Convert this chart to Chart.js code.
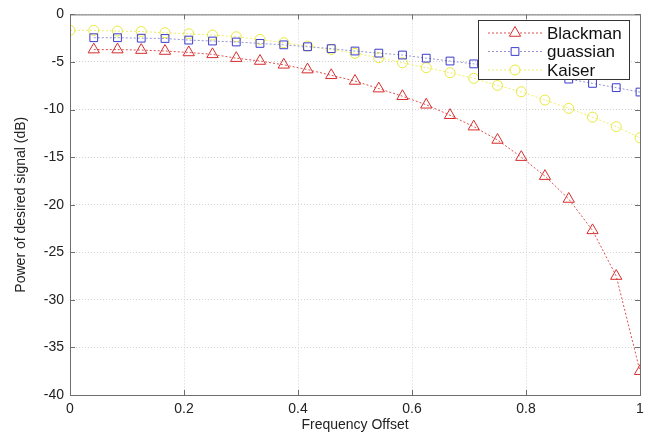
<!DOCTYPE html>
<html>
<head>
<meta charset="utf-8">
<script src="https://cdn.jsdelivr.net/npm/chart.js@4/dist/chart.umd.min.js"></script>
<style>
  html, body { margin: 0; padding: 0; background: #fff; }
  #wrap { width: 650px; height: 438px; position: relative; }
</style>
</head>
<body>
<div id="wrap"><canvas id="chart"></canvas></div>
<script>
// frequency offset values (x)
const freqOffset = [0, 0.0417, 0.0833, 0.125, 0.1667, 0.2083, 0.25, 0.2917, 0.3333, 0.375,
  0.4167, 0.4583, 0.5, 0.5417, 0.5833, 0.625, 0.6667, 0.7083, 0.75, 0.7917,
  0.8333, 0.875, 0.9167, 0.9583, 1];

// power (dB) per window, Blackman and guassian start at the second offset
const blackman = [-3.7, -3.7, -3.75, -3.85, -4.0, -4.2, -4.6, -4.9, -5.3, -5.8,
  -6.4, -7.0, -7.8, -8.6, -9.5, -10.6, -11.8, -13.2, -15.0, -17.0,
  -19.4, -22.7, -27.5, -37.5];
const guassian = [-2.45, -2.45, -2.5, -2.53, -2.7, -2.8, -2.9, -3.05, -3.2, -3.4,
  -3.6, -3.85, -4.07, -4.27, -4.6, -4.9, -5.2, -5.6, -6.0, -6.4,
  -6.8, -7.25, -7.7, -8.16];
const kaiser = [-1.68, -1.68, -1.75, -1.8, -1.93, -2.03, -2.17, -2.35, -2.63, -2.98,
  -3.33, -3.68, -4.1, -4.55, -5.08, -5.6, -6.13, -6.72, -7.46, -8.13,
  -9.0, -9.88, -10.8, -11.8, -12.96];

const xTicks = [0, 0.2, 0.4, 0.6, 0.8, 1];
const yTicks = [0, -5, -10, -15, -20, -25, -30, -35, -40];

const FONT = "'Liberation Sans', Arial, sans-serif";

function toPoints(xs, ys) {
  return ys.map((y, i) => ({ x: xs[i], y: y }));
}

const series = [
  { label: 'Blackman', xs: freqOffset.slice(1), ys: blackman, color: 'rgb(215,45,45)', line: 'rgb(222,80,80)', style: 'triangle', r: 6.5 },
  { label: 'guassian', xs: freqOffset.slice(1), ys: guassian, color: 'rgb(60,60,205)', line: 'rgb(150,150,215)', style: 'rect', r: 5.5 },
  { label: 'Kaiser', xs: freqOffset, ys: kaiser, color: 'rgb(232,232,60)', line: 'rgb(238,238,110)', style: 'circle', r: 5 }
];

// frame, inner ticks and boxed legend like the matlab figure
const framePlugin = {
  id: 'frame',
  afterDraw(chart) {
    const { ctx, chartArea: a, scales } = chart;
    ctx.save();
    ctx.strokeStyle = '#6e6e6e';
    ctx.lineWidth = 1;
    ctx.strokeRect(a.left + 0.5, a.top + 0.5, a.right - a.left, a.bottom - a.top);
    ctx.beginPath();
    xTicks.forEach(v => {
      const px = Math.round(scales.x.getPixelForValue(v)) + 0.5;
      ctx.moveTo(px, a.bottom); ctx.lineTo(px, a.bottom - 5);
      ctx.moveTo(px, a.top); ctx.lineTo(px, a.top + 5);
    });
    yTicks.forEach(v => {
      const py = Math.round(scales.y.getPixelForValue(v)) + 0.5;
      ctx.moveTo(a.left, py); ctx.lineTo(a.left + 5, py);
      ctx.moveTo(a.right, py); ctx.lineTo(a.right - 5, py);
    });
    ctx.stroke();

    // legend box
    const lx = 478, ly = 20, lw = 151, lh = 59;
    ctx.fillStyle = '#fff';
    ctx.fillRect(lx, ly, lw, lh);
    ctx.strokeStyle = '#333';
    ctx.strokeRect(lx + 0.5, ly + 0.5, lw, lh);
    ctx.textBaseline = 'middle';
    series.forEach((s, i) => {
      const cy = ly + 13 + i * 18.5;
      ctx.strokeStyle = s.line;
      ctx.setLineDash([2, 2]);
      ctx.beginPath();
      ctx.moveTo(lx + 10, cy); ctx.lineTo(lx + 64, cy);
      ctx.stroke();
      ctx.setLineDash([]);
      ctx.strokeStyle = s.color;
      ctx.fillStyle = '#fff';
      Chart.helpers.drawPoint(ctx, { pointStyle: s.style, radius: s.r, rotation: 0, borderWidth: 1 }, lx + 37, cy);
      ctx.fillStyle = '#111';
      ctx.font = '17px ' + FONT;
      ctx.fillText(s.label, lx + 69, cy + 1);
    });
    ctx.restore();
  }
};

new Chart(document.getElementById('chart'), {
  type: 'line',
  data: {
    datasets: series.map(s => ({
      label: s.label,
      data: toPoints(s.xs, s.ys),
      borderColor: s.line,
      backgroundColor: 'transparent',
      borderWidth: 1,
      borderDash: [2, 2],
      tension: 0,
      pointStyle: s.style,
      pointRadius: s.r,
      pointBorderColor: s.color,
      pointBackgroundColor: 'transparent',
      pointBorderWidth: 1
    }))
  },
  options: {
    responsive: true,
    maintainAspectRatio: false,
    animation: false,
    layout: { padding: { top: 13, right: 10, left: 0, bottom: 0 } },
    plugins: {
      legend: { display: false },
      tooltip: { enabled: false }
    },
    scales: {
      x: {
        type: 'linear',
        min: 0,
        max: 1,
        afterBuildTicks: scale => { scale.ticks = xTicks.map(v => ({ value: v })); },
        afterFit: scale => { scale.height = 43; },
        ticks: {
          color: '#222',
          font: { family: FONT, size: 14 },
          padding: 6,
          maxRotation: 0,
          callback: v => String(v)
        },
        grid: { color: '#d2d2d2', drawTicks: false },
        border: { display: false, dash: [1, 2] },
        title: {
          display: true,
          text: 'Frequency Offset',
          color: '#222',
          font: { family: FONT, size: 14 },
          padding: { top: 0, bottom: 4 }
        }
      },
      y: {
        type: 'linear',
        min: -40,
        max: 0,
        afterBuildTicks: scale => { scale.ticks = yTicks.map(v => ({ value: v })); },
        afterFit: scale => { scale.width = 70; },
        ticks: {
          color: '#222',
          font: { family: FONT, size: 14 },
          padding: 6,
          callback: v => String(v)
        },
        grid: { color: '#d2d2d2', drawTicks: false },
        border: { display: false, dash: [1, 2] },
        title: {
          display: true,
          text: 'Power of desired signal (dB)',
          color: '#222',
          font: { family: FONT, size: 14 },
          padding: { top: 13, bottom: 0 }
        }
      }
    }
  },
  plugins: [framePlugin]
});
</script>
</body>
</html>
